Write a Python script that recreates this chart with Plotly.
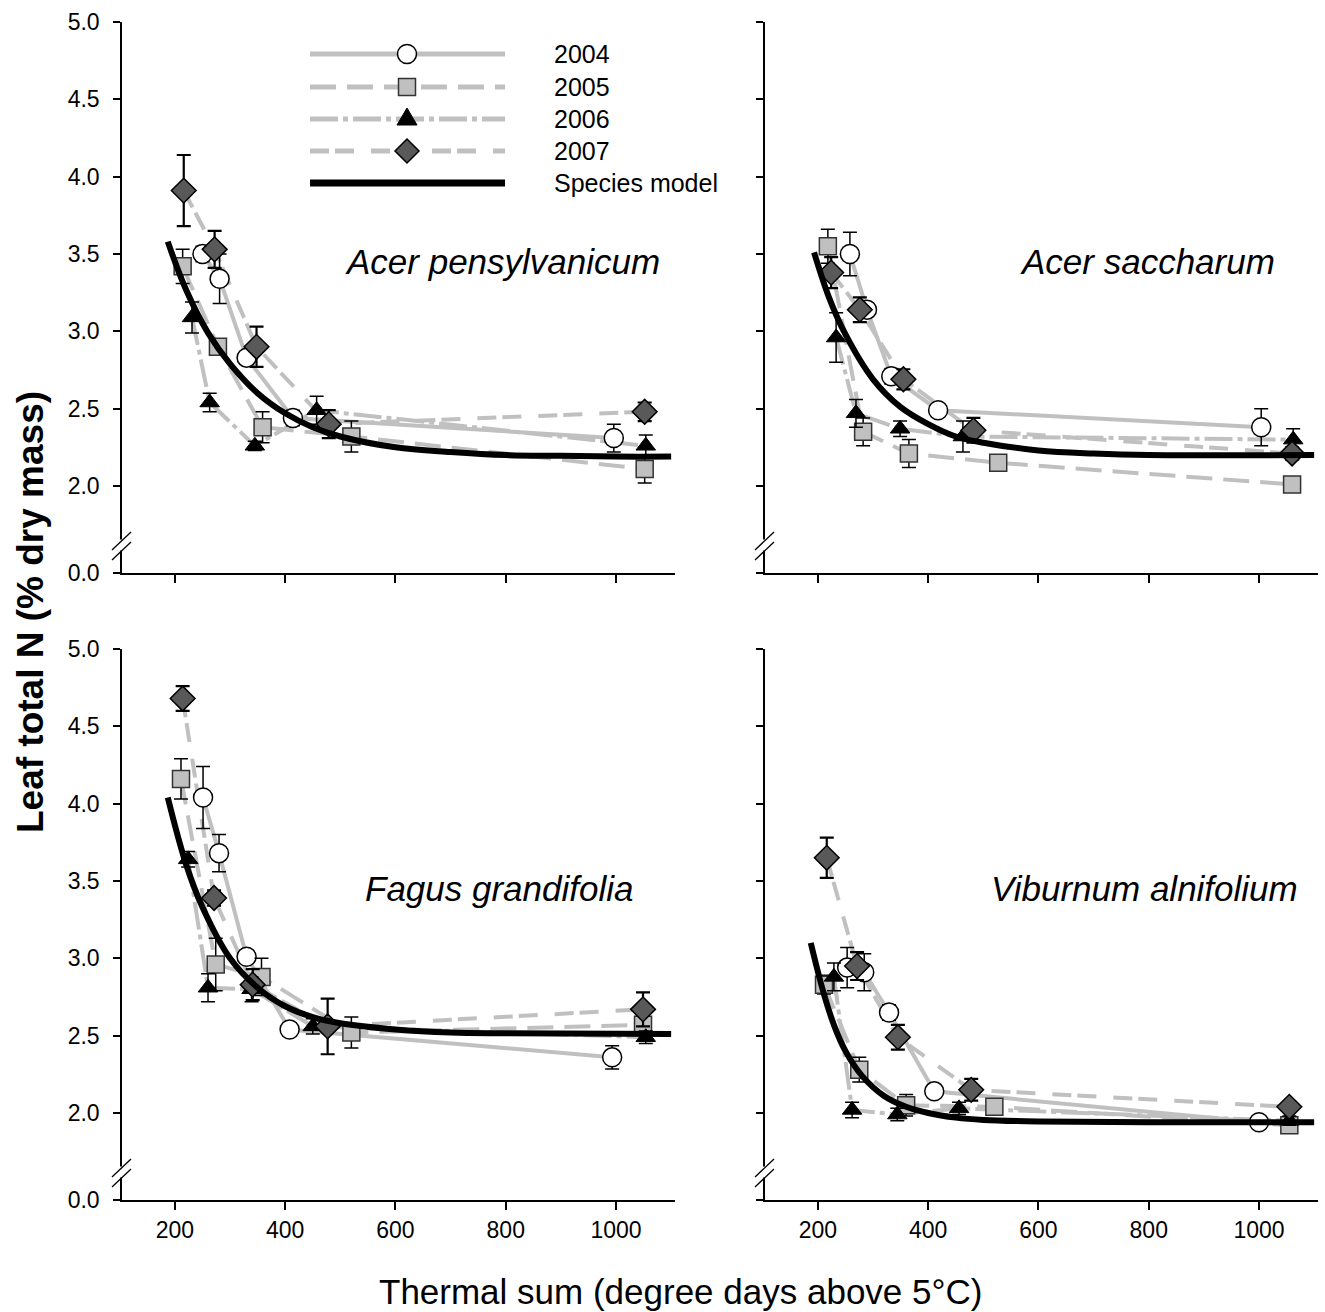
import plotly.graph_objects as go

W, H = 1325, 1312

# ---------------- DATA ----------------
years = ["2004", "2005", "2006", "2007"]
species = ["Acer pensylvanicum", "Acer saccharum", "Fagus grandifolia", "Viburnum alnifolium"]
x_ticks = [200, 400, 600, 800, 1000]
y_ticks = [2.0, 2.5, 3.0, 3.5, 4.0, 4.5, 5.0]
y_tick_text = ["2.0", "2.5", "3.0", "3.5", "4.0", "4.5", "5.0"]

# Acer pensylvanicum
ap_x_2004 = [250, 281, 330, 414, 996]
ap_y_2004 = [3.50, 3.34, 2.83, 2.44, 2.31]
ap_e_2004 = [0.05, 0.16, 0.03, 0.05, 0.09]
ap_x_2005 = [214, 278, 359, 520, 1052]
ap_y_2005 = [3.42, 2.90, 2.38, 2.32, 2.11]
ap_e_2005 = [0.11, 0.03, 0.10, 0.10, 0.09]
ap_x_2006 = [231, 263, 345, 457, 1054]
ap_y_2006 = [3.09, 2.54, 2.26, 2.49, 2.26]
ap_e_2006 = [0.10, 0.06, 0.03, 0.09, 0.07]
ap_x_2007 = [216, 272, 348, 479, 1052]
ap_y_2007 = [3.91, 3.53, 2.90, 2.40, 2.48]
ap_e_2007 = [0.23, 0.12, 0.13, 0.09, 0.06]
ap_model_x = [187, 220, 260, 300, 350, 400, 450, 500, 600, 700, 800, 900, 1000, 1100]
ap_model_y = [3.58, 3.27, 2.99, 2.79, 2.60, 2.47, 2.38, 2.32, 2.25, 2.22, 2.20, 2.195, 2.19, 2.19]

# Acer saccharum
as_x_2004 = [258, 289, 333, 418, 1004]
as_y_2004 = [3.50, 3.14, 2.71, 2.49, 2.38]
as_e_2004 = [0.14, 0.04, 0.05, 0.04, 0.12]
as_x_2005 = [218, 282, 365, 527, 1060]
as_y_2005 = [3.55, 2.35, 2.21, 2.15, 2.01]
as_e_2005 = [0.11, 0.09, 0.09, 0.03, 0.03]
as_x_2006 = [233, 269, 349, 463, 1062]
as_y_2006 = [2.96, 2.47, 2.37, 2.32, 2.30]
as_e_2006 = [0.16, 0.09, 0.05, 0.10, 0.07]
as_x_2007 = [224, 276, 355, 482, 1060]
as_y_2007 = [3.38, 3.14, 2.69, 2.36, 2.21]
as_e_2007 = [0.10, 0.08, 0.065, 0.08, 0.04]
as_model_x = [193, 220, 250, 300, 350, 400, 450, 500, 600, 700, 800, 1100]
as_model_y = [3.51, 3.22, 2.98, 2.69, 2.51, 2.40, 2.32, 2.28, 2.23, 2.21, 2.20, 2.20]

# Fagus grandifolia
fg_x_2004 = [251, 280, 330, 408, 993]
fg_y_2004 = [4.04, 3.68, 3.01, 2.54, 2.36]
fg_e_2004 = [0.20, 0.12, 0.04, 0.03, 0.075]
fg_x_2005 = [211, 274, 357, 520, 1049]
fg_y_2005 = [4.16, 2.96, 2.88, 2.52, 2.57]
fg_e_2005 = [0.13, 0.17, 0.12, 0.10, 0.05]
fg_x_2006 = [224, 260, 339, 450, 1054]
fg_y_2006 = [3.64, 2.81, 2.80, 2.56, 2.49]
fg_e_2006 = [0.05, 0.09, 0.08, 0.05, 0.04]
fg_x_2007 = [214, 271, 341, 477, 1049]
fg_y_2007 = [4.68, 3.39, 2.83, 2.56, 2.67]
fg_e_2007 = [0.08, 0.05, 0.10, 0.18, 0.11]
fg_model_x = [187, 220, 250, 300, 350, 400, 450, 500, 600, 700, 800, 1100]
fg_model_y = [4.04, 3.61, 3.33, 3.00, 2.81, 2.69, 2.62, 2.58, 2.54, 2.52, 2.515, 2.51]

# Viburnum alnifolium
va_x_2004 = [253, 284, 329, 411, 1000]
va_y_2004 = [2.94, 2.91, 2.65, 2.14, 1.94]
va_e_2004 = [0.13, 0.12, 0.05, 0.03, 0.03]
va_x_2005 = [211, 275, 360, 520, 1055]
va_y_2005 = [2.83, 2.28, 2.05, 2.04, 1.92]
va_e_2005 = [0.06, 0.08, 0.07, 0.03, 0.03]
va_x_2006 = [229, 262, 344, 456, 1055]
va_y_2006 = [2.88, 2.02, 1.99, 2.03, 1.95]
va_e_2006 = [0.09, 0.05, 0.04, 0.04, 0.03]
va_x_2007 = [216, 271, 345, 478, 1055]
va_y_2007 = [3.65, 2.95, 2.49, 2.15, 2.04]
va_e_2007 = [0.13, 0.09, 0.08, 0.07, 0.03]
va_model_x = [187, 210, 230, 250, 280, 320, 360, 400, 450, 500, 600, 800, 1100]
va_model_y = [3.10, 2.78, 2.56, 2.40, 2.24, 2.11, 2.04, 2.00, 1.97, 1.955, 1.945, 1.94, 1.94]

# ---------------- STYLE ----------------
FONT = "Liberation Sans, Arial, sans-serif"
GREY = "#c0c0c0"
Y_BREAK = 1.4375          # position of the "0.0" tick below the axis break
X_RANGE = [104, 1107]
Y_RANGE = [Y_BREAK, 5.0]

dash_styles = {"2004": "solid", "2005": "26px,11px", "2006": "28px,5px,5px,5px",
               "2007": "19px,6px,19px,17px"}
marker_styles = {
    "2004": dict(symbol="circle", size=19, color="white", line=dict(color="black", width=1.5)),
    "2005": dict(symbol="square", size=17, color=GREY, line=dict(color="#333333", width=1.5)),
    "2006": dict(symbol="triangle-up", size=17, color="black", line=dict(color="black", width=1)),
    "2007": dict(symbol="diamond", size=19, color="#595959", line=dict(color="black", width=1.5)),
}
err_thick = {"2004": 1.5, "2005": 1.5, "2006": 1.5, "2007": 2.2}

panels = [
    ("x", "y", species[0],
     [(ap_x_2004, ap_y_2004, ap_e_2004), (ap_x_2005, ap_y_2005, ap_e_2005),
      (ap_x_2006, ap_y_2006, ap_e_2006), (ap_x_2007, ap_y_2007, ap_e_2007)],
     (ap_model_x, ap_model_y)),
    ("x2", "y2", species[1],
     [(as_x_2004, as_y_2004, as_e_2004), (as_x_2005, as_y_2005, as_e_2005),
      (as_x_2006, as_y_2006, as_e_2006), (as_x_2007, as_y_2007, as_e_2007)],
     (as_model_x, as_model_y)),
    ("x3", "y3", species[2],
     [(fg_x_2004, fg_y_2004, fg_e_2004), (fg_x_2005, fg_y_2005, fg_e_2005),
      (fg_x_2006, fg_y_2006, fg_e_2006), (fg_x_2007, fg_y_2007, fg_e_2007)],
     (fg_model_x, fg_model_y)),
    ("x4", "y4", species[3],
     [(va_x_2004, va_y_2004, va_e_2004), (va_x_2005, va_y_2005, va_e_2005),
      (va_x_2006, va_y_2006, va_e_2006), (va_x_2007, va_y_2007, va_e_2007)],
     (va_model_x, va_model_y)),
]

fig = go.Figure()

for xa, ya, name, series, model in panels:
    # connecting lines first
    for yr, (xs, ys, es) in zip(years, series):
        fig.add_trace(go.Scatter(x=xs, y=ys, mode="lines", xaxis=xa, yaxis=ya,
                                 line=dict(color=GREY, width=4, dash=dash_styles[yr]),
                                 showlegend=False, hoverinfo="skip"))
    # markers with error bars
    for yr, (xs, ys, es) in zip(years, series):
        fig.add_trace(go.Scatter(x=xs, y=ys, mode="markers", xaxis=xa, yaxis=ya,
                                 marker=marker_styles[yr],
                                 error_y=dict(type="data", array=es, visible=True,
                                              color="black", thickness=err_thick[yr], width=7),
                                 showlegend=False, name=yr))
    # species model on top
    fig.add_trace(go.Scatter(x=model[0], y=model[1], mode="lines", xaxis=xa, yaxis=ya,
                             line=dict(color="black", width=6, shape="spline", smoothing=1),
                             showlegend=False, name="Species model"))

# ---------------- AXES ----------------
def px_x(p):
    return p / W

def px_y(p):
    return 1 - p / H

dom_x_left = [px_x(122), px_x(675)]
dom_x_right = [px_x(765), px_x(1318)]
dom_y_top = [px_y(573), px_y(22)]
dom_y_bot = [px_y(1200), px_y(649)]

def xaxis_cfg(domain, anchor, labels):
    return dict(domain=domain, anchor=anchor, range=X_RANGE, tickvals=x_ticks,
                showticklabels=labels, ticks="outside", ticklen=8, tickwidth=1.5,
                tickcolor="black", showline=True, linecolor="black", linewidth=1.5,
                showgrid=False, zeroline=False, automargin=False,
                tickfont=dict(family=FONT, size=23, color="black"), ticklabelstandoff=1)

def yaxis_cfg(domain, anchor, labels):
    return dict(domain=domain, anchor=anchor, range=Y_RANGE,
                tickvals=[Y_BREAK] + y_ticks, ticktext=["0.0"] + y_tick_text,
                showticklabels=labels, ticks="outside", ticklen=7, tickwidth=1.5,
                tickcolor="black", showline=True, linecolor="black", linewidth=1.5,
                showgrid=False, zeroline=False, automargin=False,
                tickfont=dict(family=FONT, size=23, color="black"), ticklabelstandoff=9)

fig.update_layout(
    xaxis=xaxis_cfg(dom_x_left, "y", False),
    yaxis=yaxis_cfg(dom_y_top, "x", True),
    xaxis2=xaxis_cfg(dom_x_right, "y2", False),
    yaxis2=yaxis_cfg(dom_y_top, "x2", False),
    xaxis3=xaxis_cfg(dom_x_left, "y3", True),
    yaxis3=yaxis_cfg(dom_y_bot, "x3", True),
    xaxis4=xaxis_cfg(dom_x_right, "y4", True),
    yaxis4=yaxis_cfg(dom_y_bot, "x4", False),
)

shapes = []
annotations = []

# axis-break marks on every y axis
PPU = 154.6  # pixels per y unit (for converting break-mark offsets)
for k, (xa, ya) in enumerate([("x", "y"), ("x2", "y2"), ("x3", "y3"), ("x4", "y4")]):
    xd = (xa + " domain")
    span = 553.0
    # white gap in the axis line
    shapes.append(dict(type="rect", xref=xd, yref=ya, x0=-3 / span, x1=3 / span,
                       y0=2.0 - 64.5 / PPU, y1=2.0 - 53.5 / PPU,
                       fillcolor="white", line=dict(width=0), layer="above"))
    for off in (0, 10):
        shapes.append(dict(type="line", xref=xd, yref=ya,
                           x0=-10 / span, x1=9 / span,
                           y0=2.0 - (64 + off) / PPU, y1=2.0 - (46 + off) / PPU,
                           line=dict(color="black", width=1.3), layer="above"))

# species names
name_pos = [("x", "y", 0.976), ("x2", "y2", 0.926), ("x3", "y3", 0.929), ("x4", "y4", 0.967)]
for (xa, ya, xr), name in zip(name_pos, species):
    annotations.append(dict(text="<i>" + name + "</i>", xref=xa + " domain", yref=ya + " domain",
                            x=xr, y=0.565, xanchor="right", yanchor="middle", showarrow=False,
                            font=dict(family=FONT, size=35, color="black")))

# axis titles
annotations.append(dict(text="Thermal sum (degree days above 5°C)", xref="paper", yref="paper",
                        x=px_x(680), y=px_y(1291), xanchor="center", yanchor="middle",
                        showarrow=False, font=dict(family=FONT, size=35, color="black")))
annotations.append(dict(text="<b>Leaf total N (% dry mass)</b>", xref="paper", yref="paper",
                        x=px_x(30), y=px_y(612), xanchor="center", yanchor="middle",
                        textangle=-90, showarrow=False,
                        font=dict(family=FONT, size=37, color="black")))

# ---------------- LEGEND (drawn manually, long line samples) ----------------
leg_rows = [54, 87, 119, 151, 183]
leg_labels = years + ["Species model"]
for i, lab in enumerate(leg_labels):
    yy = px_y(leg_rows[i])
    if i < 4:
        shapes.append(dict(type="line", xref="paper", yref="paper", x0=px_x(310), x1=px_x(505),
                           y0=yy, y1=yy, line=dict(color=GREY, width=5, dash=dash_styles[lab])))
    else:
        shapes.append(dict(type="line", xref="paper", yref="paper", x0=px_x(310), x1=px_x(505),
                           y0=yy, y1=yy, line=dict(color="black", width=7)))
    annotations.append(dict(text=lab, xref="paper", yref="paper", x=px_x(552), y=yy,
                            xanchor="left", yanchor="middle", showarrow=False,
                            font=dict(family=FONT, size=25, color="black")))

mx = px_x(407)
common = dict(xref="paper", yref="paper", xsizemode="pixel", ysizemode="pixel", xanchor=mx)
shapes.append(dict(type="circle", yanchor=px_y(54), x0=-9.5, x1=9.5, y0=-9.5, y1=9.5,
                   fillcolor="white", line=dict(color="black", width=1.5), **common))
shapes.append(dict(type="rect", yanchor=px_y(87), x0=-8.5, x1=8.5, y0=-8.5, y1=8.5,
                   fillcolor=GREY, line=dict(color="#333333", width=1.5), **common))
shapes.append(dict(type="path", yanchor=px_y(119), path="M -10,-6 L 10,-6 L 0,11 Z",
                   fillcolor="black", line=dict(color="black", width=1), **common))
shapes.append(dict(type="path", yanchor=px_y(151), path="M -12,0 L 0,12 L 12,0 L 0,-12 Z",
                   fillcolor="#595959", line=dict(color="black", width=1.5), **common))

fig.update_layout(
    width=W, height=H, margin=dict(l=0, r=0, t=0, b=0),
    paper_bgcolor="white", plot_bgcolor="white",
    shapes=shapes, annotations=annotations, showlegend=False,
    font=dict(family=FONT, color="black"),
)

fig.write_html("out.html", config={"displayModeBar": False},
               post_script="document.body.style.margin='0px';document.body.style.overflow='hidden';")
